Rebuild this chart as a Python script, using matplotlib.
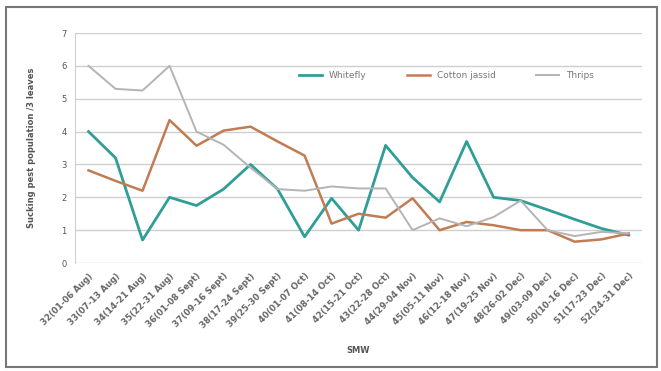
import matplotlib
matplotlib.use("Agg")
import matplotlib.pyplot as plt
from matplotlib.patches import Rectangle

weeks = ["32(01-06 Aug)", "33(07-13 Aug)", "34(14-21 Aug)", "35(22-31 Aug)",
         "36(01-08 Sept)", "37(09-16 Sept)", "38(17-24 Sept)", "39(25-30 Sept)",
         "40(01-07 Oct)", "41(08-14 Oct)", "42(15-21 Oct)", "43(22-28 Oct)",
         "44(29-04 Nov)", "45(05-11 Nov)", "46(12-18 Nov)", "47(19-25 Nov)",
         "48(26-02 Dec)", "49(03-09 Dec)", "50(10-16 Dec)", "51(17-23 Dec)",
         "52(24-31 Dec)"]

whitefly = [4.0, 3.2, 0.7, 2.0, 1.75, 2.25, 3.0, 2.25, 0.8, 1.97, 1.0,
            3.58, 2.6, 1.86, 3.7, 2.0, 1.9, 1.62, 1.33, 1.05, 0.85]
jassid = [2.82, 2.5, 2.2, 4.35, 3.57, 4.03, 4.15, 3.7, 3.27, 1.2, 1.5,
          1.38, 1.97, 1.0, 1.25, 1.15, 1.0, 1.0, 0.65, 0.72, 0.9]
thrips = [6.0, 5.3, 5.25, 6.0, 4.0, 3.6, 2.9, 2.25, 2.2, 2.33, 2.27,
          2.27, 1.0, 1.36, 1.12, 1.4, 1.9, 1.0, 0.82, 0.95, 0.9]

fig = plt.figure(figsize=(6.61, 3.71), dpi=100)
ax = fig.add_axes([0.1135, 0.291, 0.858, 0.62])

x = list(range(len(weeks)))
ax.plot(x, whitefly, color="#2f9e97", lw=2.0, label="Whitefly")
ax.plot(x, jassid, color="#c07c52", lw=1.8, label="Cotton jassid")
ax.plot(x, thrips, color="#b4b4b4", lw=1.4, label="Thrips")

ax.set_xlim(-0.5, len(weeks) - 0.5)
ax.set_ylim(0, 7)
ax.set_yticks(range(0, 8))
ax.grid(axis="y", color="#cfcfcf", lw=1.0)
ax.set_axisbelow(True)
for s in ["top", "right", "bottom"]:
    ax.spines[s].set_visible(False)
ax.spines["left"].set_color("#d0d0d0")
ax.tick_params(axis="both", length=0, labelsize=6, colors="#555555", pad=6)

ax.set_xticks(x)
ax.set_xticklabels(weeks, rotation=45, ha="right", rotation_mode="anchor",
                   fontsize=6.2, fontweight="bold", color="#666666")
ax.set_ylabel("Sucking pest population /3 leaves", fontsize=6,
              fontweight="bold", color="#555555", labelpad=18)
ax.set_xlabel("SMW", fontsize=6, fontweight="bold", color="#555555",
              labelpad=12)

ax.legend(loc="upper center", bbox_to_anchor=(0.655, 0.87), ncol=3,
          frameon=False, fontsize=6.5, handlelength=2.5, columnspacing=4.5,
          labelcolor="#777777")

fig.patches.append(Rectangle((0.009, 0.01), 0.985, 0.972,
                             transform=fig.transFigure, fill=False,
                             edgecolor="#777777", lw=1.5))

fig.savefig("out.png", dpi=100, facecolor="white")
